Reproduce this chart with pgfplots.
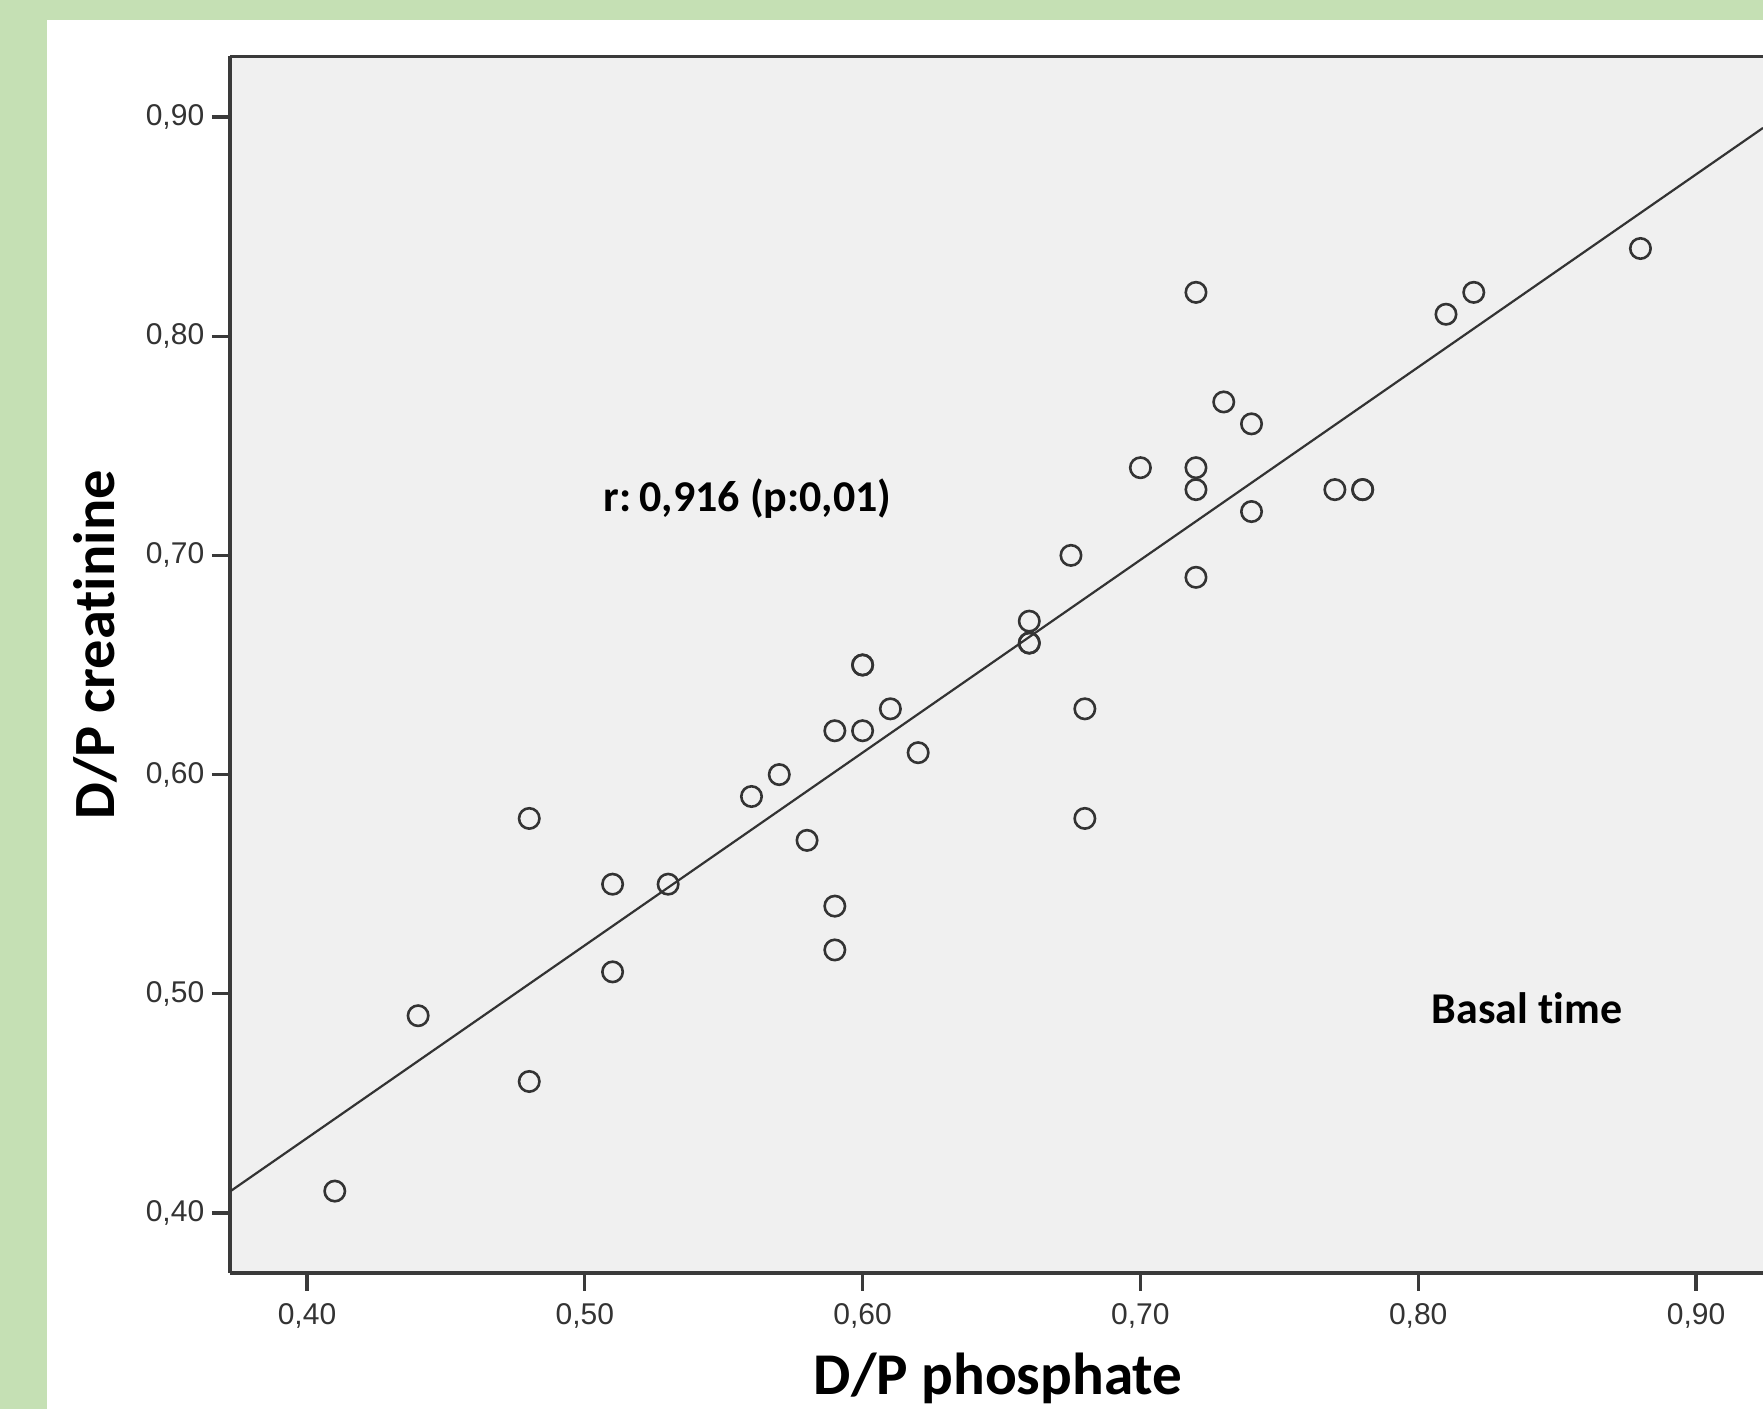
\documentclass[border=0pt]{standalone}
\usepackage{pgfplots}
\pgfplotsset{compat=1.18}
\usepackage{fontspec}
\setmainfont{Liberation Sans}
\newfontfamily\carlito[RawFeature={-liga}]{Carlito}
\definecolor{greenbg}{HTML}{C5E0B4}
\definecolor{plotbg}{HTML}{F0F0F0}
\definecolor{dk}{HTML}{333333}
\definecolor{ax}{HTML}{3A3A3A}
\begin{document}
\begin{tikzpicture}
\useasboundingbox (-57.5pt,-34pt) rectangle (383.25pt,318.25pt);
\fill[greenbg] (-57.5pt,-34pt) rectangle (383.25pt,318.25pt);
\fill[white] (-45.75pt,-34pt) rectangle (383.25pt,313.25pt);
\begin{axis}[
  at={(0,0)}, anchor=south west,
  scale only axis,
  width=383.25pt, height=304.25pt,
  xmin=0.37228, xmax=0.92412,
  ymin=0.37263, ymax=0.92783,
  axis x line*=bottom, axis y line*=left,
  axis line style={-, line width=0.8pt, color=ax},
  axis background/.style={fill=plotbg},
  tick align=outside,
  major tick length=4.5pt,
  every tick/.style={line width=0.8pt, color=ax},
  xtick={0.4,0.5,0.6,0.7,0.8,0.9},
  ytick={0.4,0.5,0.6,0.7,0.8,0.9},
  /pgf/number format/assume math mode=true,
  /pgf/number format/.cd, fixed, fixed zerofill, precision=2, use comma,
  /pgfplots/.cd,
  ticklabel style={font=\fontsize{7.5}{8}\selectfont, color=dk},
  xticklabel style={inner sep=0pt, anchor=north, yshift=-3pt},
  yticklabel style={inner sep=0pt, anchor=east, xshift=-1.75pt},
  xlabel={D/P phosphate},
  ylabel={D/P creatinine},
  xlabel style={font=\carlito\bfseries\fontsize{14.8}{16}\selectfont, at={(rel axis cs:0.501,0)}, anchor=base, yshift=-30.5pt, inner sep=0pt},
  ylabel style={font=\carlito\bfseries\fontsize{14.6}{16}\selectfont, at={([xshift=-28.75pt]rel axis cs:0,0.516)}, anchor=base, inner sep=0pt},
  clip=true,
]
\addplot[color=dk, line width=0.55pt] coordinates {(0.37228,0.4098) (0.92412,0.8950)};
\addplot[only marks, mark=o, mark size=2.55pt, mark options={line width=0.65pt, color=dk}] coordinates {
(0.41,0.41) (0.44,0.49) (0.48,0.46) (0.48,0.58) (0.51,0.55) (0.51,0.51)
(0.53,0.55) (0.56,0.59) (0.57,0.60) (0.58,0.57) (0.59,0.62) (0.59,0.54)
(0.59,0.52) (0.60,0.65) (0.60,0.65) (0.60,0.62) (0.61,0.63) (0.62,0.61)
(0.66,0.67) (0.66,0.66) (0.66,0.66) (0.675,0.70) (0.68,0.63) (0.68,0.58)
(0.70,0.74) (0.72,0.82) (0.72,0.74) (0.72,0.73) (0.72,0.69) (0.73,0.77)
(0.74,0.76) (0.74,0.72) (0.77,0.73) (0.78,0.73) (0.78,0.73) (0.81,0.81)
(0.82,0.82) (0.88,0.84)};
\node[font=\carlito\bfseries\fontsize{11}{13}\selectfont, text=black, inner sep=0pt] at (axis cs:0.5586,0.726) {r:\hspace{0.18em}0,916 (p:0,01)};
\node[font=\carlito\bfseries\fontsize{11}{13}\selectfont, text=black, inner sep=0pt] at (axis cs:0.8392,0.4934) {Basal time};
\draw[line width=0.8pt, color=ax] (rel axis cs:0,1) -- (rel axis cs:1,1);
\end{axis}
\end{tikzpicture}
\end{document}
